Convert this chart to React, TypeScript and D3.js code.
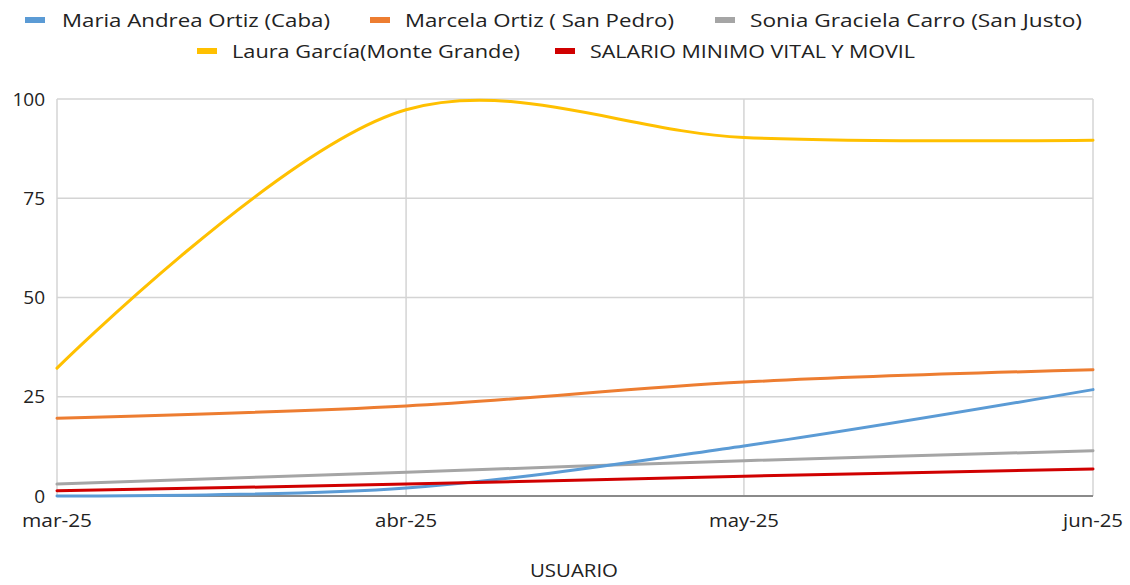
import React from "react";
import * as d3 from "d3";

const months = ["2025-03-01", "2025-04-01", "2025-05-01", "2025-06-01"];
const monthLabels = ["mar-25", "abr-25", "may-25", "jun-25"];
const seriesNames = [
  "Maria Andrea Ortiz (Caba)",
  "Marcela Ortiz ( San Pedro)",
  "Sonia Graciela Carro (San Justo)",
  "Laura García(Monte Grande)",
  "SALARIO MINIMO VITAL Y MOVIL",
];
const mariaValues = [0, 2, 12.6, 26.8];
const marcelaValues = [19.6, 22.7, 28.7, 31.8];
const soniaValues = [3, 6, 8.9, 11.4];
const lauraValues = [32.2, 97.3, 90.3, 89.6];
const salarioValues = [1.3, 3, 5, 6.8];
const yTicks = [0, 25, 50, 75, 100];
const colors = ["#5b9bd5", "#ed7d31", "#a5a5a5", "#ffc000", "#d00000"];
const axisTitle = "USUARIO";

const W = 1130, H = 585;
const M = { left: 57, right: 1093, top: 99, bottom: 496 };

export default function App() {
  const dates = months.map((m) => new Date(m + "T00:00:00"));
  const x = d3.scaleTime().domain([dates[0], dates[3]]).range([M.left, M.right]);
  const y = d3.scaleLinear().domain([0, 100]).range([M.bottom, M.top]);
  const all = [mariaValues, marcelaValues, soniaValues, lauraValues, salarioValues];
  const line = d3
    .line<number>()
    .x((_, i) => x(dates[i]))
    .y((v) => y(v))
    .curve(d3.curveCatmullRom.alpha(0.5));
  const font = "'Open Sans', sans-serif";
  const legendRows = [
    [{ i: 0, sx: 25, tx: 62, w: 268 }, { i: 1, sx: 370, tx: 405, w: 269 }, { i: 2, sx: 715, tx: 750, w: 332 }],
    [{ i: 3, sx: 197, tx: 232, w: 288 }, { i: 4, sx: 555, tx: 590, w: 325 }],
  ];
  const legendY = [20, 51];
  const labelW = [70, 62, 70, 60];
  const drawOrder = [2, 0, 1, 3, 4];
  return (
    <svg width={W} height={H} style={{ position: "absolute", left: 0, top: 0, background: "#fff" }}>
      <rect width={W} height={H} fill="#fff" />
      {yTicks.map((t) => (
        <g key={t}>
          {t > 0 && (
            <line x1={M.left} x2={M.right} y1={y(t)} y2={y(t)} stroke="#d4d4d4" strokeWidth={1.5} />
          )}
          <text x={45} y={y(t)} dy="0.35em" textAnchor="end" fontFamily={font} fontSize={19} fill="#222">
            {t}
          </text>
        </g>
      ))}
      {dates.map((d, i) => (
        <g key={i}>
          <line x1={x(d)} x2={x(d)} y1={M.top} y2={M.bottom} stroke="#d4d4d4" strokeWidth={1.5} />
          <text
            x={x(d)}
            y={527}
            textAnchor="middle"
            fontFamily={font}
            fontSize={19}
            fill="#222"
            textLength={labelW[i]}
            lengthAdjust="spacingAndGlyphs"
          >
            {monthLabels[i]}
          </text>
        </g>
      ))}
      <line x1={M.left} x2={M.right} y1={M.bottom} y2={M.bottom} stroke="#8a8a8a" strokeWidth={2} />
      {drawOrder.map((k) => (
        <path key={k} d={line(all[k]) || ""} fill="none" stroke={colors[k]} strokeWidth={3} strokeLinecap="round" />
      ))}
      {legendRows.map((row, r) =>
        row.map((it) => (
          <g key={it.i}>
            <rect x={it.sx} y={legendY[r] - 3} width={20} height={6} fill={colors[it.i]} />
            <text
              x={it.tx}
              y={legendY[r]}
              dy="0.35em"
              fontFamily={font}
              fontSize={19}
              fill="#222"
              textLength={it.w}
              lengthAdjust="spacingAndGlyphs"
            >
              {seriesNames[it.i]}
            </text>
          </g>
        ))
      )}
      <text
        x={574}
        y={577}
        textAnchor="middle"
        fontFamily={font}
        fontSize={18}
        fill="#222"
        textLength={88}
        lengthAdjust="spacingAndGlyphs"
      >
        {axisTitle}
      </text>
    </svg>
  );
}
